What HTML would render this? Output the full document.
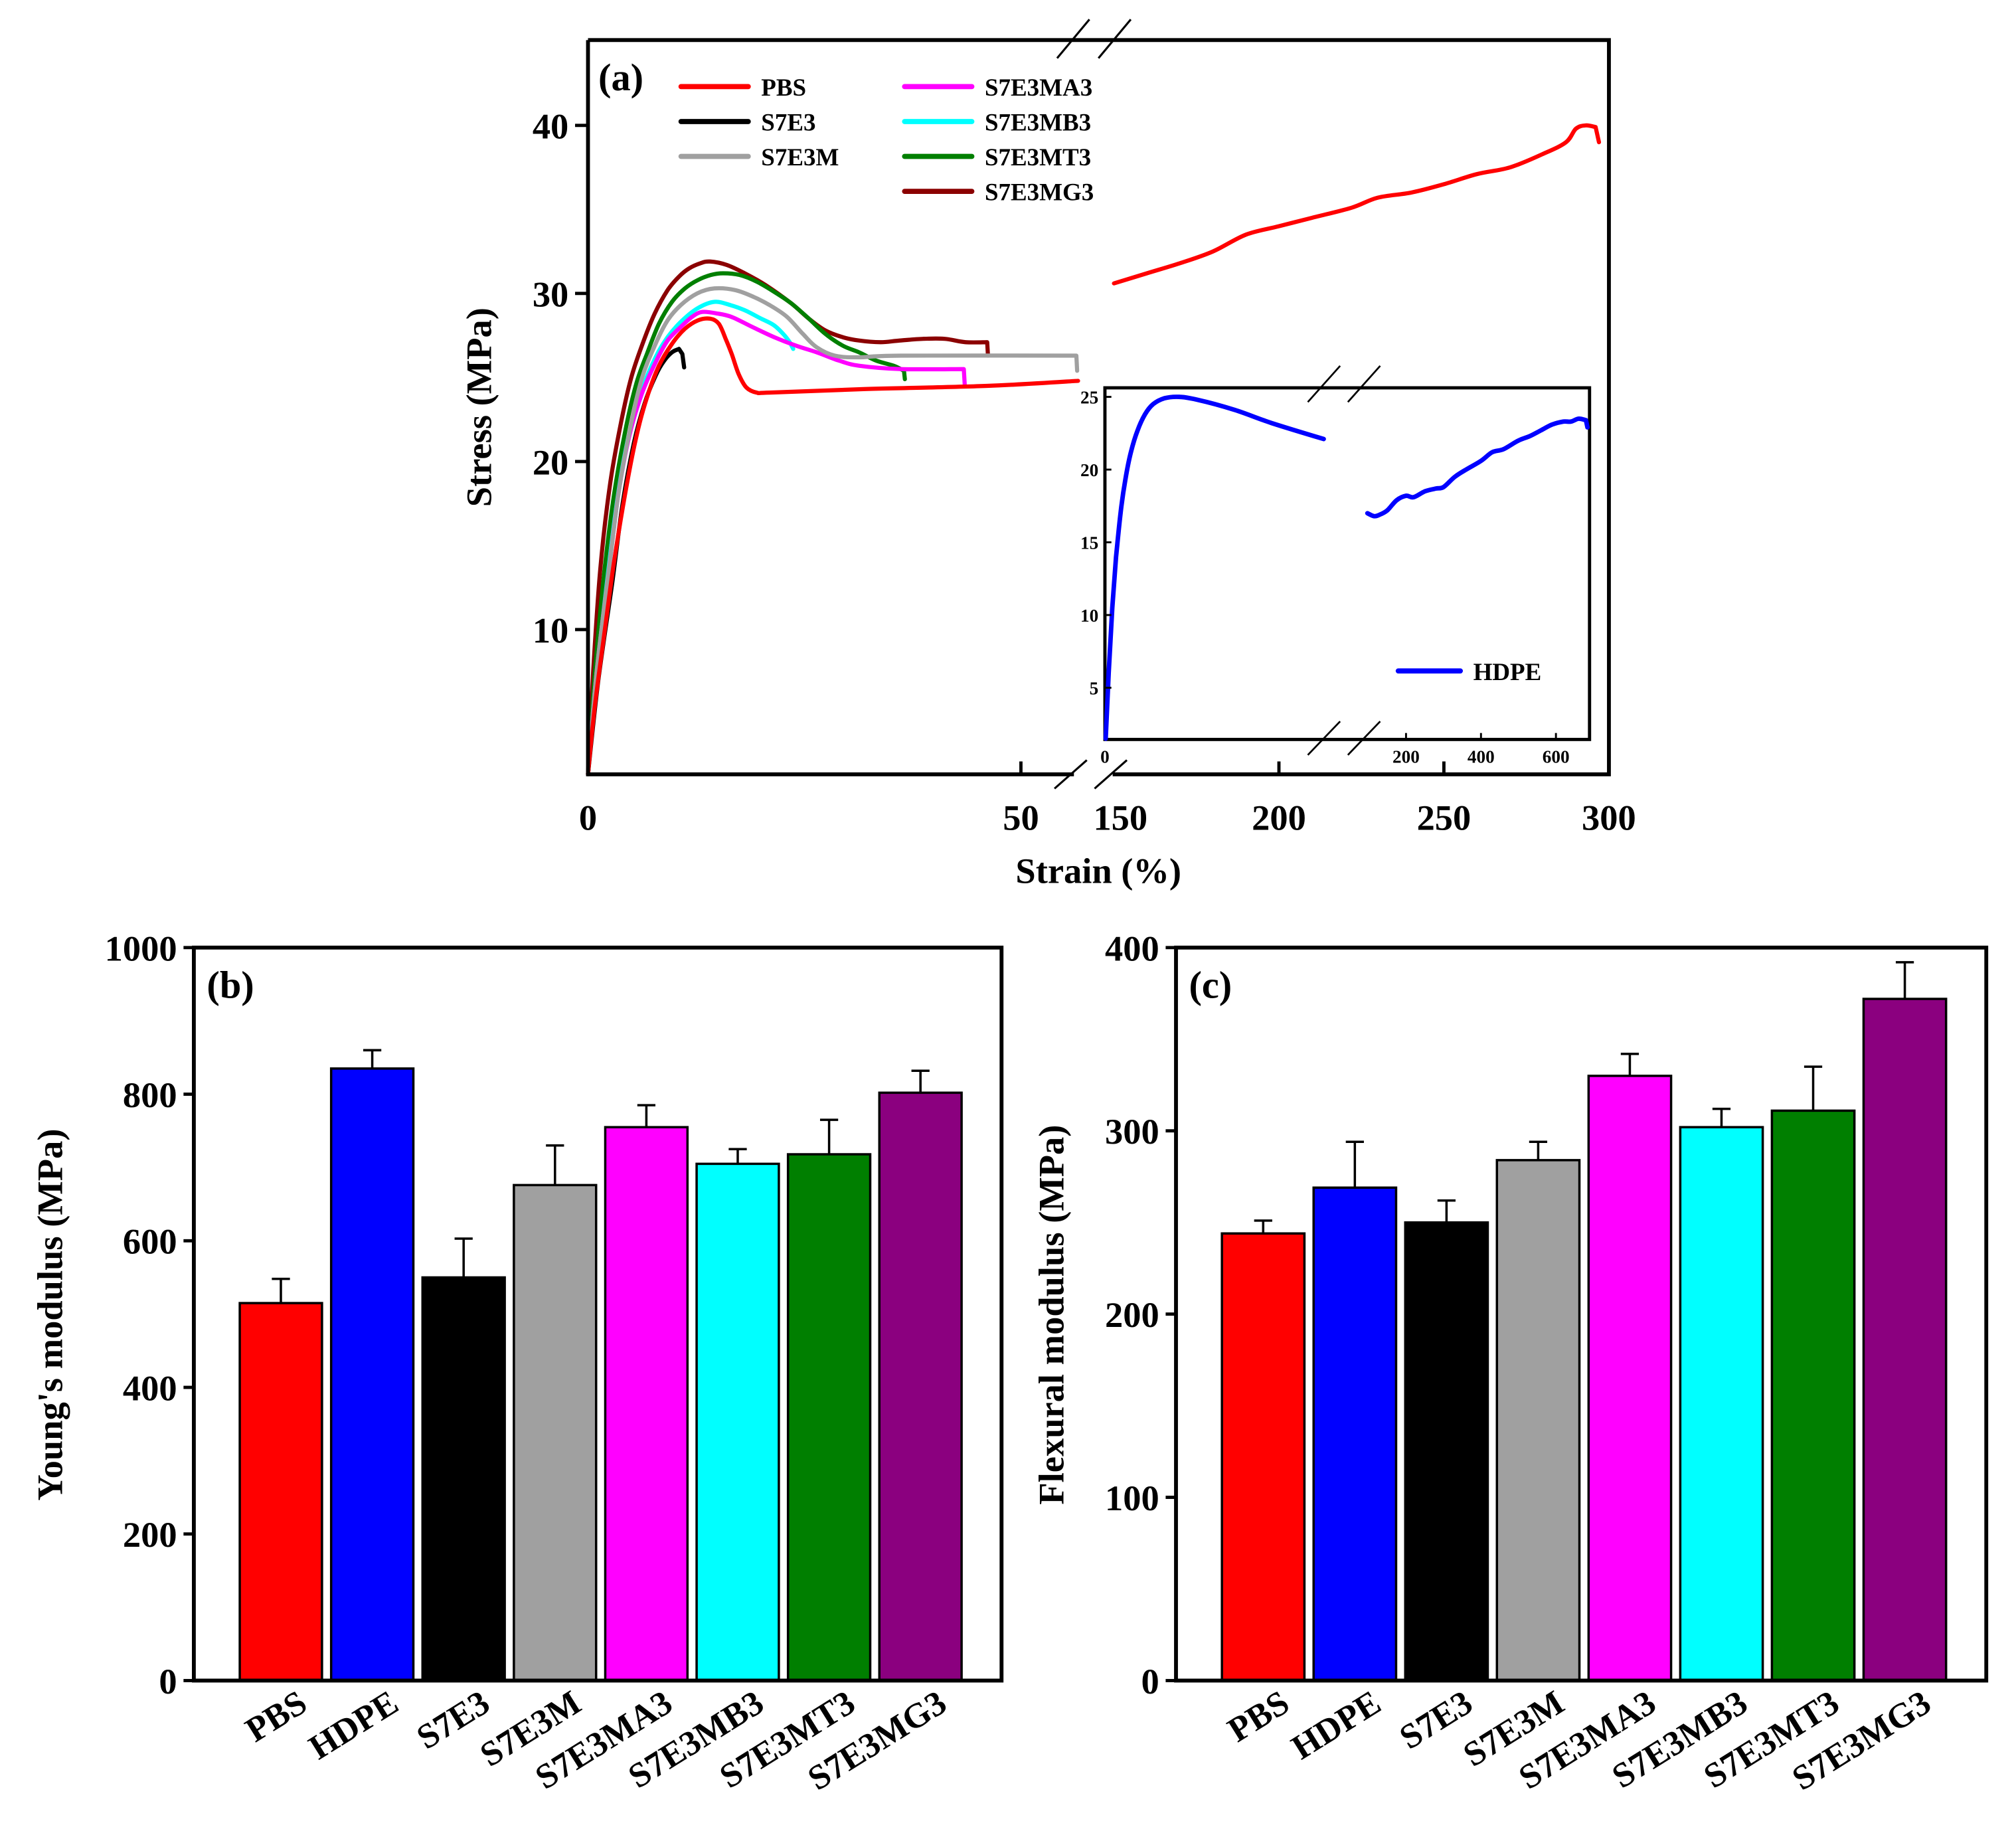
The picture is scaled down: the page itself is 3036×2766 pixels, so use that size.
<!DOCTYPE html>
<html><head><meta charset="utf-8"><style>
html,body{margin:0;padding:0;background:#fff}
svg{display:block}
text{font-family:"Liberation Serif",serif;font-weight:bold;fill:#000}
</style></head><body>
<svg id="fig" width="3036" height="2766" viewBox="0 0 1560 1421" preserveAspectRatio="none" xmlns="http://www.w3.org/2000/svg"></svg>
<script>
// ---------- Panel (a) data ----------
const seriesNames = ["PBS","S7E3","S7E3M","S7E3MA3","S7E3MB3","S7E3MT3","S7E3MG3"];
const seriesColors = ["#ff0000","#000000","#a0a0a0","#ff00ff","#00ffff","#007f00","#8b0000"];
const pbsLeft = [[0,1.4],[0.8,5.5],[1.9,9.8],[3,14],[4.3,18.1],[5.5,21.3],[6.8,23.8],[8.2,25.7],[9.7,27],[11.2,27.9],[12.7,28.4],[14.1,28.5],[15.1,28.2],[15.9,27.3],[16.6,26.4],[17.4,25.2],[18.3,24.4],[19.5,24.1],[21,24.1],[31.3,24.3],[46.1,24.5],[56.6,24.8]];
const pbsRight = [[150,30.6],[160,31.2],[170,31.8],[180,32.5],[190,33.5],[200,34.0],[210,34.5],[222,35.1],[230,35.7],[240,36.0],[250,36.5],[260,37.1],[270,37.5],[280,38.3],[287,39.0],[290,39.8],[293,40.0],[296,39.9],[297,39.0]];
const s7e3 = [[0,1.4],[1.2,7],[2.8,12.8],[4,17.5],[5.3,21.1],[6.5,23.4],[7.8,25.1],[8.8,26],[9.7,26.5],[10.5,26.7],[10.9,26.4],[11.1,25.6]];
const s7e3m = [[0,1.4],[1,7.5],[2.4,13.5],[3.5,18],[4.8,21.8],[6.2,24.9],[7.8,27],[9.2,28.4],[10.7,29.3],[12.6,30],[14.6,30.3],[17,30.2],[19.1,29.8],[21,29.3],[23,28.6],[24.8,27.6],[26.4,26.8],[28.5,26.3],[31.3,26.2],[36.2,26.3],[56.4,26.3],[56.5,25.4]];
const s7e3ma3 = [[0,1.4],[1,7.5],[2.4,13.5],[3.5,18],[4.8,21.6],[6.2,24],[7.8,25.9],[9.2,27.2],[10.7,28],[12,28.6],[13.2,28.9],[15,28.8],[16.6,28.6],[19,28],[21.5,27.4],[24,26.9],[26.4,26.5],[29,26],[31.3,25.7],[36.2,25.5],[43.4,25.5],[43.5,24.6]];
const s7e3mb3 = [[0,1.4],[1,7.3],[2.3,13.3],[3.4,17.8],[4.6,21.3],[6.2,24.2],[7.8,26.2],[9.2,27.4],[10.7,28.3],[12.6,29.1],[14.6,29.5],[16.5,29.3],[18.1,29],[20,28.5],[21.5,28.1],[22.7,27.5],[23.3,27.1],[23.7,26.7]];
const s7e3mt3 = [[0,1.4],[0.8,7.5],[1.9,13.5],[3,18],[4.3,21.8],[5.5,24.5],[6.8,26.4],[8.2,28.2],[9.7,29.5],[11.2,30.3],[12.7,30.8],[14.2,31.1],[15.6,31.2],[17.5,31.1],[19.5,30.7],[21.5,30.1],[23.5,29.4],[25.5,28.5],[27.4,27.6],[29.4,26.9],[31.3,26.5],[33.3,26],[35.3,25.7],[36.5,25.4],[36.6,24.9]];
const s7e3mg3 = [[0,1.4],[0.6,7.5],[1.4,13.5],[2.5,18.5],[3.8,22.3],[5,25],[6.3,27],[7.7,28.8],[9.2,30.2],[10.5,31],[11.7,31.5],[13,31.8],[14.1,31.9],[16,31.7],[18.1,31.2],[20.5,30.5],[23.5,29.4],[25.5,28.5],[27.4,27.8],[29.4,27.4],[31.3,27.2],[33.8,27.1],[36,27.2],[38.7,27.3],[41.2,27.3],[43.6,27.1],[46.1,27.1],[46.2,26.3]];
const leftSeries = [pbsLeft,s7e3,s7e3m,s7e3ma3,s7e3mb3,s7e3mt3,s7e3mg3];
const yTicksA = [10,20,30,40];
const xTicksLeftA = [0,50];
const xTicksRightA = [150,200,250,300];
// inset HDPE
const hdpeLeft = [[0.2,1.5],[1,6],[2,10.5],[3,14],[4.2,17],[5.5,19.3],[7,21.2],[8.8,22.7],[10.8,23.8],[13,24.5],[16,24.9],[20,25],[25,24.8],[35,24.1],[45,23.2],[59,22.1]];
const hdpeRight = [[97,17],[115,16.8],[130,16.9],[150,17.2],[175,17.9],[200,18.2],[220,18.1],[250,18.5],[280,18.7],[300,18.8],[330,19.5],[360,20],[400,20.6],[430,21.2],[460,21.4],[500,22],[530,22.3],[560,22.7],[590,23.1],[620,23.3],[640,23.3],[660,23.5],[680,23.4],[684,22.9]];
const yTicksInset = [5,10,15,20,25];
const xTicksInset = [200,400,600];
// ---------- Bar panels ----------
const barCats = ["PBS","HDPE","S7E3","S7E3M","S7E3MA3","S7E3MB3","S7E3MT3","S7E3MG3"];
const barColors = ["#ff0000","#0000ff","#000000","#a0a0a0","#ff00ff","#00ffff","#007f00","#8b007f"];
const youngVals = [515,835,550,676,755,705,718,802];
const youngErr = [33,25,53,54,30,20,47,30];
const flexVals = [244,269,250,284,330,302,311,372];
const flexErr = [7,25,12,10,12,10,24,20];
const yTicksB = [0,200,400,600,800,1000];
const yTicksC = [0,100,200,300,400];

const svg = document.getElementById('fig');
const NS = "http://www.w3.org/2000/svg";
function mk(tag, attrs, parent){const e=document.createElementNS(NS,tag);for(const k in attrs)e.setAttribute(k,attrs[k]);(parent||svg).appendChild(e);return e;}
function txt(s, attrs, parent){const e=mk('text',attrs,parent);e.textContent=s;return e;}

const ay = v => 617 - v*13;
const axL = v => 455 + v*6.7;
const axR = v => 862 + (v-150)*2.553;
const gA = mk('g',{});
 
function smoothPath(P){
  const n=P.length;
  const steep = i => (i>=0 && i<n-1) && Math.abs(P[i+1][0]-P[i][0]) < 3;
  let d='M'+P[0][0].toFixed(1)+','+P[0][1].toFixed(1);
  for(let i=0;i<n-1;i++){
    const p1=P[i],p2=P[i+1];
    if(steep(i)){ d+=` L${p2[0].toFixed(1)},${p2[1].toFixed(1)}`; continue; }
    const p0 = (i>0 && !steep(i-1)) ? P[i-1] : p1;
    const p3 = (i+2<n && !steep(i+1)) ? P[i+2] : p2;
    const c1=[p1[0]+(p2[0]-p0[0])/6,p1[1]+(p2[1]-p0[1])/6];
    const c2=[p2[0]-(p3[0]-p1[0])/6,p2[1]-(p3[1]-p1[1])/6];
    d+=` C${c1[0].toFixed(1)},${c1[1].toFixed(1)} ${c2[0].toFixed(1)},${c2[1].toFixed(1)} ${p2[0].toFixed(1)},${p2[1].toFixed(1)}`;
  }
  return d;
}
function poly(pts, fx, fy, color, w, parent, name){
  const P = pts.map(d=>[fx(d[0]),fy(d[1])]);
  const p = mk('path',{d:smoothPath(P),fill:'none',stroke:color,'stroke-width':w,'stroke-linejoin':'round','stroke-linecap':'round'},parent);
   
  return p;
}
for(let i=leftSeries.length-1;i>=0;i--){
  poly(leftSeries[i], axL, ay, seriesColors[i], 3.2, gA, 'line-'+seriesNames[i].toLowerCase());
}
poly(pbsRight, axR, ay, seriesColors[0], 3.2, gA, 'line-pbs-high-strain');
const fr = mk('path',{d:'M455,31 H1245 V599 H861 M831,599 H455 V31',fill:'none',stroke:'#000','stroke-width':3},gA);
 
[[818,45,843,15],[850,45,875,15],[816,610,841,588],[847,610,872,588]].forEach(s=>{
  const l=mk('line',{x1:s[0],y1:s[1],x2:s[2],y2:s[3],stroke:'#000','stroke-width':1.6},gA);
   
});
yTicksA.forEach(v=>{
  mk('line',{x1:445,y1:ay(v),x2:455,y2:ay(v),stroke:'#000','stroke-width':2.5},gA);
  const t=txt(String(v),{x:440,y:ay(v)+10,'text-anchor':'end','font-size':28},gA);
   
});
xTicksLeftA.forEach(v=>{
  if(v>0) mk('line',{x1:axL(v),y1:599,x2:axL(v),y2:589,stroke:'#000','stroke-width':2.5},gA);
  const t=txt(String(v),{x:axL(v),y:642,'text-anchor':'middle','font-size':28},gA);
   
});
xTicksRightA.forEach(v=>{
  if(v>150&&v<300) mk('line',{x1:axR(v),y1:599,x2:axR(v),y2:589,stroke:'#000','stroke-width':2.5},gA);
  const t=txt(String(v),{x:axR(v)+(v==150?5:0),y:642,'text-anchor':'middle','font-size':28},gA);
   
});
let t;
t=txt('Stress (MPa)',{x:0,y:0,'text-anchor':'middle','font-size':28,transform:'translate(380,315) rotate(-90)'},gA);
 
t=txt('Strain (%)',{x:850,y:683,'text-anchor':'middle','font-size':28},gA);
 
t=txt('(a)',{x:463,y:70,'font-size':30},gA);
 
const legPos = [[527,67],[527,94],[527,121],[700,67],[700,94],[700,121],[700,148]];
seriesNames.forEach((n,i)=>{
  const g=mk('g',{},gA);
   
  mk('line',{x1:legPos[i][0],y1:legPos[i][1],x2:legPos[i][0]+52,y2:legPos[i][1],stroke:seriesColors[i],'stroke-width':4,'stroke-linecap':'round'},g);
  txt(n,{x:legPos[i][0]+62,y:legPos[i][1]+7,'font-size':19},g);
});
// ---- inset
const iy = v => 588.25 - v*11.25;
const ixL = v => 855 + v*2.87;
const ixR = v => 1088 + (v-200)*0.29;
const gI = mk('g',{});
 
mk('rect',{x:855,y:300,width:375,height:272,fill:'#fff',stroke:'#000','stroke-width':2.5},gI);
poly(hdpeLeft, ixL, iy, '#0000ff', 3.5, gI, 'line-hdpe');
poly(hdpeRight, ixR, iy, '#0000ff', 3.5, gI, 'line-hdpe-high-strain');
[[1012,311,1037,283],[1043,311,1068,283],[1012,584,1037,558],[1043,584,1068,558]].forEach(s=>{
  const l=mk('line',{x1:s[0],y1:s[1],x2:s[2],y2:s[3],stroke:'#000','stroke-width':1.4},gI);
   
});
yTicksInset.forEach(v=>{
  mk('line',{x1:855,y1:iy(v),x2:860,y2:iy(v),stroke:'#000','stroke-width':1.5},gI);
  const tt=txt(String(v),{x:850,y:iy(v)+5,'text-anchor':'end','font-size':14},gI);
   
});
t=txt('0',{x:ixL(0),y:590,'text-anchor':'middle','font-size':14},gI);
 
xTicksInset.forEach(v=>{
  mk('line',{x1:ixR(v),y1:572,x2:ixR(v),y2:567,stroke:'#000','stroke-width':1.5},gI);
  const tt=txt(String(v),{x:ixR(v),y:590,'text-anchor':'middle','font-size':14},gI);
   
});
const gl=mk('g',{},gI);
 
mk('line',{x1:1082,y1:519,x2:1130,y2:519,stroke:'#0000ff','stroke-width':4,'stroke-linecap':'round'},gl);
txt('HDPE',{x:1140,y:526,'font-size':19},gl);

// ---- Bar panels
function barPanel(name, x0, x1, maxV, vals, errs, ticks, title, label, titleX){
  const g=mk('g',{});
   
  const top=733, bot=1300;
  const y = v => bot - v*(bot-top)/maxV;
  const step=(x1-x0)/barCats.length*0.905;
  const start=x0+35;
  const cx = i => start + step*i + step/2 - 3;
  const bw = step*0.9;
  vals.forEach((v,i)=>{
    const eb=mk('path',{d:`M${cx(i)},${y(v)} V${y(v+errs[i])} M${cx(i)-7},${y(v+errs[i])} H${cx(i)+7}`,stroke:'#000','stroke-width':1.8,fill:'none'},g);
     
    const r=mk('rect',{x:cx(i)-bw/2,y:y(v),width:bw,height:bot-y(v),fill:barColors[i],stroke:'#000','stroke-width':1.8},g);
     
    const tl=txt(barCats[i],{x:0,y:0,'text-anchor':'end','font-size':27,transform:`translate(${cx(i)+22},${1322}) rotate(-32)`},g);
     
  });
  const f=mk('rect',{x:x0,y:top,width:x1-x0,height:bot-top,fill:'none',stroke:'#000','stroke-width':3},g);
   
  ticks.forEach(v=>{
    mk('line',{x1:x0-8,y1:y(v),x2:x0,y2:y(v),stroke:'#000','stroke-width':2.5},g);
    const tt=txt(String(v),{x:x0-13,y:y(v)+10,'text-anchor':'end','font-size':28},g);
     
  });
  const at=txt(title,{x:0,y:0,'text-anchor':'middle','font-size':28,transform:`translate(${titleX},1017) rotate(-90)`},g);
   
  const pl=txt(label,{x:x0+10,y:772,'font-size':30},g);
   
}
barPanel('panel-b',150,775,1000,youngVals,youngErr,yTicksB,"Young's modulus (MPa)","(b)",48);
barPanel('panel-c',910,1537,400,flexVals,flexErr,yTicksC,"Flexural modulus (MPa)","(c)",823);
</script>
</body></html>
